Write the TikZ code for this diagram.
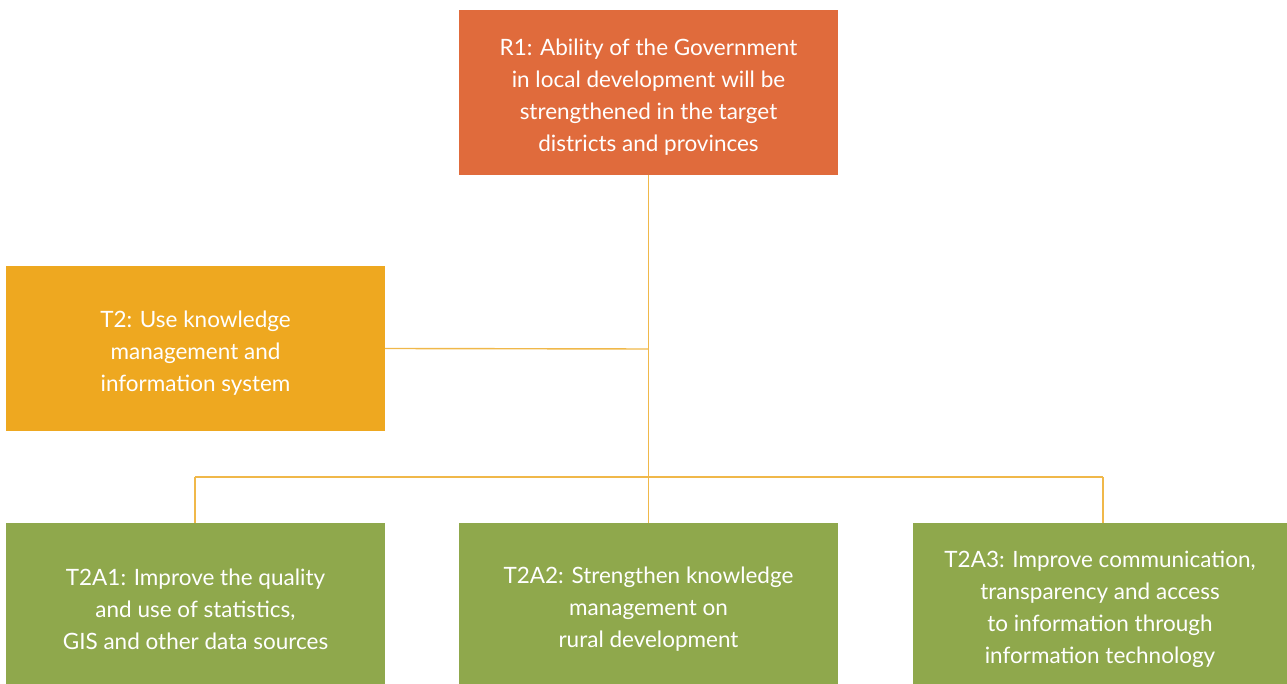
\documentclass[tikz,border=0pt]{standalone}
\usepackage{fontspec}
\setmainfont{Lato}
\definecolor{rone}{HTML}{E06B3C}
\definecolor{ttwo}{HTML}{EEA820}
\definecolor{leaf}{HTML}{8FA84C}
\definecolor{wire}{HTML}{F0B84A}
\begin{document}
\begin{tikzpicture}[x=1pt,y=1pt,
  box/.style={draw=none,inner sep=0pt,outer sep=0pt,text=white,align=center,
    font=\fontsize{22.5}{32}\selectfont},
  conn/.style={draw=wire,line width=1.4pt}]
\useasboundingbox (0,0) rectangle (1287,684);
\node[box,fill=rone,minimum width=379pt,minimum height=165pt] (r1) at (648.5,591.5) {};
\node[box,fill=ttwo,minimum width=379pt,minimum height=165pt] (t2) at (195.5,335.5) {};
\node[box,fill=leaf,minimum width=379pt,minimum height=161pt] (a1) at (195.5,80.5) {};
\node[box,fill=leaf,minimum width=379pt,minimum height=161pt] (a2) at (648.5,80.5) {};
\node[box,fill=leaf,minimum width=374pt,minimum height=161pt] (a3) at (1100,80.5) {};
% texts
\node[box] (r1t) at (648.5,587) {R1: Ability of the Government\\in local development will be\\strengthened in the target\\districts and provinces};
\node[box] (t2t) at (195.5,331) {T2: Use knowledge\\management and\\information system};
\node[box] (a1t) at (195.5,75) {T2A1: Improve the quality\\and use of statistics,\\GIS and other data sources};
\node[box] (a2t) at (648.5,75) {T2A2: Strengthen knowledge\\management on\\rural development};
\node[box] (a3t) at (1100,75) {T2A3: Improve communication,\\transparency and access\\to information through\\information technology};
% connectors
\coordinate (j1) at (648,335);
\coordinate (jl) at (195,207);
\coordinate (jr) at (1103,207);
\draw[conn] (r1.south) -- (a2.north);
\draw[conn] (t2.east) -- (j1);
\draw[conn] (jl) -- (jr);
\draw[conn] (jl) -- (jl |- a1.north);
\draw[conn] (jr) -- (jr |- a3.north);
\end{tikzpicture}
\end{document}
